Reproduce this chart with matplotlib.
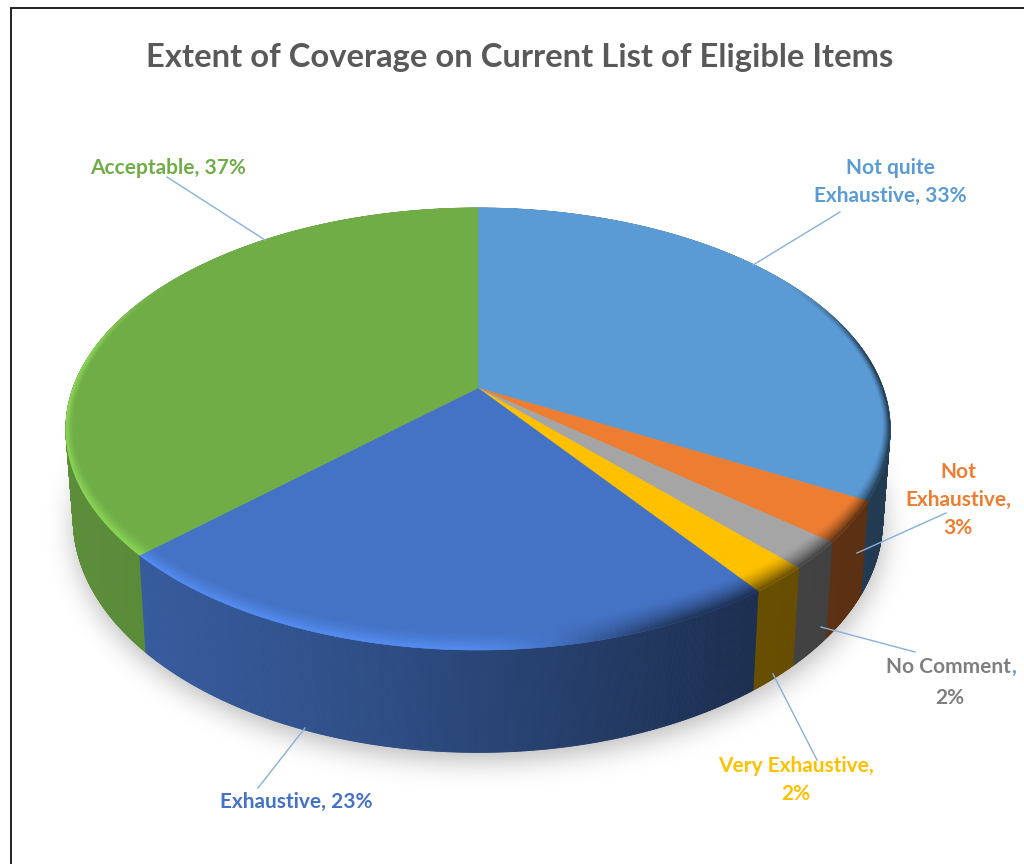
import numpy as np
import matplotlib
matplotlib.use("Agg")
import matplotlib.pyplot as plt
from matplotlib.collections import PolyCollection
from matplotlib.patches import Polygon
from matplotlib.path import Path

# Slices go clockwise from twelve o'clock
labels = ["Not quite\nExhaustive, 33%", "Not\nExhaustive,\n3%", "No Comment,\n2%",
          "Very Exhaustive,\n2%", "Exhaustive, 23%", "Acceptable, 37%"]
values = [33, 3, 2, 2, 23, 37]
colors = ["#5B9BD5", "#ED7D31", "#A5A5A5", "#FFC000", "#4472C4", "#70AD47"]
text_colors = ["#5B9BD5", "#ED7D31", "#7F7F7F", "#FFC000", "#4472C4", "#70AD47"]
title = "Extent of Coverage on Current List of Eligible Items"

# Label centres and leader lines, in pixels
label_pos = [(890, 182), (958, 500), (950, 682), (796, 780), (296, 802), (168, 168)]
leaders = [((840, 212), (753, 265)), ((946, 513), (857, 553)), ((915, 652), (821, 627)),
           ((817, 760), (773, 674)), ((258, 788), (305, 728)), ((167, 177), (265, 240))]

CX, CY = 478, 388
K = 0.1855
AX, AY = 405, 213.4
LABEL_SIZE = 15


def project(theta, r=1.0):
    # perspective view of the pie disc, theta clockwise from the top
    u = r * np.sin(theta)
    v = r * np.cos(theta)
    d = 1 + K * v
    return CX + AX * u / d, CY - AY * v / d


def project_low(theta):
    # same rim at the bottom of the extrusion
    x, y = project(theta)
    return CX + (x - CX) * 0.982, CY + (y - CY) * 1.055 + 88


def project_bevel(theta, t):
    # t = 0 is the inner edge of the bevel, t = 1 the rim; it is deepest at the front
    x, y = project(theta, 1 - (1 - t) * 0.018)
    lift = 14 + 8 * smooth(-0.05, 0.45, np.sin(theta))
    return x, y - (1 - t) * lift * np.maximum(-np.cos(theta), 0)


def shade(x):
    return np.interp(x, [65, 150, 380, 750, 890], [0.82, 0.80, 0.68, 0.41, 0.38])


def smooth(a, b, x):
    t = np.clip((x - a) / (b - a), 0, 1)
    return t * t * (3 - 2 * t)


def soft_shadow(ax):
    xs = np.arange(0, 1024, 2)
    ys = np.arange(0, 864, 2)
    gx, gy = np.meshgrid(xs, ys)
    th = np.linspace(0, 2 * np.pi, 300)
    px, py = project_low(th)
    path = Path(np.column_stack([px, py + 7]))
    mask = path.contains_points(np.column_stack([gx.ravel(), gy.ravel()])).reshape(gx.shape).astype(float)
    k = np.exp(-0.5 * (np.arange(-24, 25) / 6.5) ** 2)
    k /= k.sum()
    mask = np.apply_along_axis(lambda c: np.convolve(c, k, mode="same"), 0, mask)
    mask = np.apply_along_axis(lambda c: np.convolve(c, k, mode="same"), 1, mask)
    rgba = np.zeros(mask.shape + (4,))
    rgba[..., :3] = 0.35
    rgba[..., 3] = mask * 0.42
    ax.imshow(rgba, extent=(0, 1024, 864, 0), aspect="auto", zorder=1, interpolation="bilinear")


plt.rcParams["font.family"] = ["Lato", "DejaVu Sans"]
fig = plt.figure(figsize=(10.24, 8.64), dpi=100)
ax = fig.add_axes([0, 0, 1, 1])
soft_shadow(ax)
ax.set_xlim(0, 1024)
ax.set_ylim(864, 0)
ax.axis("off")

fractions = np.cumsum([0] + values) / sum(values)
edges = fractions * 2 * np.pi

# side wall, back segments first
quads, quad_colors, depth = [], [], []
for start, end, col in zip(edges[:-1], edges[1:], colors):
    base = np.array(matplotlib.colors.to_rgb(col))
    n = max(int((end - start) * 250), 3)
    th = np.linspace(start, end, n + 1)
    x0, y0 = project(th)
    x1, y1 = project_low(th)
    for i in range(n):
        quads.append([(x0[i], y0[i]), (x0[i + 1], y0[i + 1]), (x1[i + 1], y1[i + 1]), (x1[i], y1[i])])
        quad_colors.append(base * shade((x0[i] + x0[i + 1]) / 2))
        depth.append(np.cos((th[i] + th[i + 1]) / 2))
order = np.argsort(depth)[::-1]
ax.add_collection(PolyCollection([quads[i] for i in order], facecolors=[quad_colors[i] for i in order],
                                 edgecolors="face", linewidths=0.6, zorder=2))

# top face
for start, end, col in zip(edges[:-1], edges[1:], colors):
    th = np.linspace(start, end, 200)
    x, y = project(th)
    ax.fill(np.r_[CX, x], np.r_[CY, y], color=col, lw=0.3, zorder=3)

# bevel around the front rim: bright on the left, falling into the wall colour on the right
steps = np.linspace(0, 1, 15)
for start, end, col in zip(edges[:-1], edges[1:], colors):
    base = np.array(matplotlib.colors.to_rgb(col))
    # run a little past both slice edges, the clip below trims it back to the wedge
    th = np.linspace(start - 0.1, end + 0.1, max(int((end - start + 0.2) * 90), 3) + 1)
    n = len(th) - 1
    bevel, bevel_colors = [], []
    for j in range(len(steps) - 1):
        t = (j + 0.5) / (len(steps) - 1)
        xa, ya = project_bevel(th, steps[j])
        xb, yb = project_bevel(th, steps[j + 1])
        for i in range(n):
            mid = (th[i] + th[i + 1]) / 2
            s = smooth(-0.05, 0.45, np.sin(mid))
            vis = 1 - smooth(0.1, 0.6, np.cos(mid))
            light = np.minimum(base * 1.24, 1)
            dark = base * shade((xa[i] + xa[i + 1]) / 2)
            target = light * (1 - s) + dark * s
            w = vis * t ** 1.4
            bevel.append([(xa[i], ya[i]), (xa[i + 1], ya[i + 1]), (xb[i + 1], yb[i + 1]), (xb[i], yb[i])])
            bevel_colors.append(base * (1 - w) + target * w)
    rim = PolyCollection(bevel, facecolors=bevel_colors, edgecolors="face", linewidths=0.4, zorder=4)
    ax.add_collection(rim)
    cx, cy = project(np.linspace(start, end, 200), 1.004)
    wedge = Polygon(np.column_stack([np.r_[CX, cx], np.r_[CY, cy]]), transform=ax.transData)
    rim.set_clip_path(wedge)

# leader lines and data labels
for (p0, p1) in leaders:
    ax.plot([p0[0], p1[0]], [p0[1], p1[1]], color="#86B1DC", lw=1.0, zorder=5)

for name, pos, col in zip(labels, label_pos, text_colors):
    if name.startswith("No Comment"):
        # the comma after this one is set in the leader blue
        first, second = name.split("\n")
        ax.text(1011, 667, first[:-1], color=col, fontsize=LABEL_SIZE, fontweight="bold", ha="right", va="center", zorder=6)
        ax.text(1011, 667, first[-1], color="#5B9BD5", fontsize=LABEL_SIZE, fontweight="bold", ha="left", va="center", zorder=6)
        ax.text(pos[0], 698, second, color=col, fontsize=LABEL_SIZE, fontweight="bold", ha="center", va="center", zorder=6)
        continue
    ax.text(pos[0], pos[1], name, color=col, fontsize=LABEL_SIZE, fontweight="bold", ha="center", va="center",
            linespacing=1.5, zorder=6)

ax.text(520, 58, title, color="#595959", fontsize=23.6, fontweight="bold", ha="center", va="center", zorder=6)

# outer border, open on the right and at the bottom
ax.plot([10.5, 10.5, 1024], [864, 7.5, 7.5], color="#111111", lw=1.3, zorder=7, solid_joinstyle="miter")

fig.savefig("out.png", dpi=100, facecolor="white")
